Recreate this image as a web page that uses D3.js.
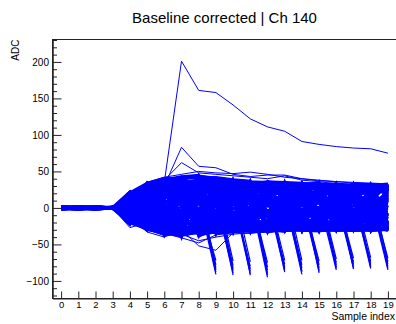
<!DOCTYPE html>
<html><head><meta charset="utf-8">
<script src="https://cdn.jsdelivr.net/npm/d3@7"></script>
<style>html,body{margin:0;padding:0;background:#fff;} svg{display:block;font-family:"Liberation Sans",Arial,Helvetica,sans-serif;}</style>
</head><body><svg id="c" width="396" height="324"></svg>
<script>
const title = "Baseline corrected | Ch 140";
const xLabel = "Sample index";
const yLabel = "ADC";
const samples = [0,1,2,3,4,5,6,7,8,9,10,11,12,13,14,15,16,17,18,19];
const xTicks = [0,1,2,3,4,5,6,7,8,9,10,11,12,13,14,15,16,17,18,19];
const yTicks = [-100,-50,0,50,100,150,200];
const yMinorTicks = [-120,-110,-90,-80,-70,-60,-40,-30,-20,-10,10,20,30,40,60,70,80,90,110,120,130,140,160,170,180,190,210,220,230];

// baseline-corrected waveforms (ADC per sample)
const noiseWaveforms = [
[0,1,-1,0,12,-18,25,-30,33,-20,28,-25,30,-12,22,-28,15,-5,27,-22],
[1,-2,1,0,-15,24,-8,35,-22,30,-31,18,-9,27,-26,12,-30,24,-14,29],
[-1,0,2,-1,5,27,-28,12,40,-27,5,33,-24,8,-18,31,-11,-29,20,6],
[0,2,-1,1,-8,-22,30,-35,18,36,-14,-29,26,-3,33,-20,28,9,-27,-16],
[1,-1,0,0,19,10,-30,38,-31,14,-25,24,35,-28,-6,24,-23,30,-2,18],
[-1,1,1,-1,-19,-26,14,22,-12,-30,38,-7,-28,34,15,-29,2,-18,31,-28],
[0,0,-2,1,16,31,5,-26,44,2,-30,29,-13,-25,30,6,-27,20,-24,25],
[2,-1,0,0,-3,-12,37,9,-34,25,18,-30,34,20,-29,-14,33,-25,11,-9],
[0,1,1,1,9,-28,-18,41,-6,-22,33,13,-27,-18,27,30,-15,-30,28,32],
[-2,0,-1,0,-12,18,27,-38,30,40,-26,-20,8,32,-24,-27,22,14,-30,3],
[1,2,0,-1,21,-5,-34,30,15,-33,11,36,-31,-9,12,20,-30,32,-18,-25],
[0,-1,2,0,-17,29,21,-14,-28,32,-9,-25,30,25,-30,-4,29,-8,24,-30],
[-1,1,-1,1,7,-19,-26,26,38,-15,35,3,-20,-31,19,33,-26,-21,5,21],
[0,0,1,0,-21,6,33,-33,-18,21,-31,31,17,-26,34,-22,10,27,-29,14],
[2,1,-1,-1,14,-25,-12,19,42,-32,22,-14,-30,22,-8,27,-31,-12,30,-20],
[-1,-2,0,1,-6,33,9,-39,25,8,-21,37,-26,13,29,-30,24,-28,16,31],
[0,1,0,0,17,-10,-31,33,-25,-28,31,-30,22,-20,-27,11,30,16,-23,-7],
[1,0,2,1,-14,21,28,-20,7,38,-33,-11,35,-29,25,-17,-20,31,-26,26],
[-1,-1,-2,0,3,-27,18,37,-36,-12,29,19,-25,30,-29,28,-5,-24,29,-30],
[0,2,1,-1,20,14,-36,-9,36,26,-8,-31,11,-22,31,-26,27,-30,-10,22],
[1,-1,-1,0,-18,-16,24,31,-27,-31,24,32,-29,36,-13,-30,32,6,-31,12],
[-2,0,0,1,11,30,-22,-31,10,35,-29,-2,30,-16,-25,32,-28,28,19,-27],
[0,1,-1,-1,-9,-21,36,15,-32,-8,37,-28,-18,28,21,-15,18,-27,33,-12],
[1,0,1,0,15,26,-4,-36,41,-25,-15,28,-31,5,-31,26,-29,13,-22,30],
[-1,2,0,1,-20,-8,-33,40,-15,33,27,-24,20,-30,33,-28,5,30,-30,-18],
[0,-2,2,0,6,32,31,-28,-30,18,-32,15,34,-23,-19,35,-24,-16,26,27],
[2,0,-1,-1,-11,-29,-20,36,27,-36,16,-27,-21,31,28,-25,31,-28,-13,-29],
[-1,1,1,0,18,19,-37,-16,39,12,-28,34,-5,-28,30,-6,-31,25,32,-24],
[0,-1,0,1,-5,-23,29,24,-24,-29,39,-16,25,17,-31,22,28,-30,8,33],
[1,1,-2,0,13,28,-15,-37,31,29,-20,-30,31,-27,10,-29,-18,32,-28,16],
[-1,0,1,-1,-16,3,34,32,-33,-17,30,26,-33,24,-28,29,-30,-9,24,-31],
[0,2,0,0,8,-30,-28,-4,43,-30,-24,30,18,-32,25,-31,26,29,-25,10],
[2,-1,-1,1,-13,25,20,39,-20,34,10,-33,-24,30,-30,15,-28,-31,30,-26],
[-1,0,2,0,22,-14,-35,-29,37,-21,34,22,-30,-12,34,-27,20,10,-31,28],
[0,1,0,-1,-2,30,26,12,-29,37,-31,-19,32,26,-26,33,-31,-26,27,-15],
[1,-2,1,0,17,-26,-9,-38,28,-34,28,33,-10,-30,20,-24,33,18,-18,30],
[-2,1,-1,1,-22,15,38,27,-37,4,-27,-24,28,15,-32,28,-14,-29,31,-29],
[0,0,0,0,10,31,-25,-33,34,31,21,-32,-28,33,-7,-31,29,24,-29,20],
[1,1,2,-1,-10,-31,30,33,-9,-26,-33,27,26,-31,26,18,-31,-22,14,-23],
[-1,-1,-1,0,4,22,-38,-12,40,-35,31,-6,-31,29,-31,30,-21,33,-31,31],
[0,1,1,1,-17,-3,23,36,-31,27,-30,35,-22,-24,31,-32,32,-27,22,-10],
[2,0,-2,0,20,-27,-30,-25,33,-11,27,-29,33,27,-25,21,-23,27,-30,25],
[-1,2,0,-1,-7,27,35,-36,-23,38,-19,25,-30,-32,23,-30,30,-20,29,-28],
[0,-1,1,0,14,-17,-24,41,12,-33,36,-32,21,25,-31,27,-27,31,-24,18],
[1,0,-1,1,-14,33,-31,-20,38,23,-33,31,-28,-30,29,-18,27,-31,9,-31],
[-1,1,0,0,19,-24,36,-31,-35,30,25,-27,29,14,-30,31,-30,12,31,-21],
[0,-2,2,-1,-19,12,-6,37,-26,-32,-25,34,-33,32,-20,-28,25,-26,-31,29],
[2,1,-1,0,1,-29,33,29,-38,35,-30,-28,27,-26,33,-29,-26,29,28,-30],
[-1,0,1,1,16,25,-33,-39,30,-31,32,29,-32,28,-27,34,-31,-30,-28,27],
[0,1,-1,0,-11,-20,16,34,-30,29,-29,32,30,-29,31,-31,31,-29,30,-29],
[1,-1,0,-1,21,34,-23,-34,42,-29,-31,-30,33,-31,-29,30,-31,30,-27,30],
[-1,2,1,0,-20,-27,38,16,-34,38,33,-31,-29,30,30,-30,-29,-31,31,-30],
[0,0,-1,1,11,17,-37,37,-37,-33,28,31,-31,-31,32,29,-30,31,-31,31],
[1,1,2,0,-15,29,28,-40,35,33,-32,-31,31,34,-31,-31,30,-30,30,-31],
[-2,-1,0,-1,18,-30,-34,40,-33,-34,32,-33,-32,31,-30,32,29,30,-31,-30],
[0,0,1,0,-4,35,25,-30,39,25,-34,33,-30,-32,33,-29,-31,31,29,29],
[1,2,-1,1,15,-28,-36,20,-35,34,35,-31,35,33,-31,29,31,-31,-30,31],
[-1,-1,0,0,-21,30,37,-37,24,-35,-33,28,-33,-30,29,-31,-30,-29,30,-31],
[0,1,1,-1,22,-16,-29,38,-39,-28,37,-33,32,31,-31,31,31,30,-31,30],
[2,-2,-1,0,-23,28,30,-38,40,36,-30,33,-31,-29,30,-30,-31,-31,30,-30],
[0,1,0,0,20,32,38,42,44,41,38,36,35,34,33,32,33,31,32,31],
[0,-1,1,0,-20,-27,-34,-36,-32,-31,-32,-30,-31,-30,-29,-30,-30,-31,-30,-30],
[1,0,-1,0,21,30,36,40,42,40,37,-31,-30,34,33,33,32,-30,31,32],
[-1,1,0,1,-19,-26,-33,-38,-33,33,35,36,-30,-31,-31,32,31,32,-31,-29],
[0,0,2,0,18,33,40,-35,-32,-32,-31,-30,36,35,34,-30,-30,31,30,31],
[2,-1,-1,0,-21,28,39,43,45,-33,-32,-31,-31,34,-30,-31,32,-31,-30,30],
[0,1,0,-1,15,-29,-35,-37,40,42,39,37,-31,-30,33,34,-29,30,31,-30],
[-1,0,1,0,-16,31,37,41,-34,-33,36,-32,33,-31,-30,33,31,-30,32,31],
[1,-1,-1,1,22,-24,-31,-34,43,41,-32,35,-30,-30,32,-31,-30,32,32,-31],
[0,2,0,0,-22,34,41,39,-31,39,37,-31,34,33,-31,-30,33,-30,-30,32],
[0,0,1,0,10,20,28,35,38,32,28,30,25,29,31,27,30,28,32,29],
[0,1,0,0,-10,-18,-26,-30,-29,-27,-30,-25,-28,-30,-26,-29,-27,-30,-28,-29],
[1,0,0,-1,14,25,33,38,35,30,22,26,30,33,28,24,29,31,26,30],
[-1,0,1,0,-14,-22,-30,-33,-31,-24,-28,-31,-22,-27,-30,-25,-29,-24,-30,-27],
[0,-1,0,1,6,15,22,28,24,18,25,20,15,22,27,19,24,16,22,25],
[0,1,-1,0,-6,-12,-18,-22,-15,-20,-14,-22,-18,-13,-21,-17,-23,-15,-20,-17],
[1,-1,0,0,2,8,14,20,12,16,10,18,14,8,15,11,17,9,14,12],
[0,0,-1,1,-2,-6,-10,-8,-4,-10,-5,-12,-7,-3,-9,-6,-11,-4,-8,-5],
[-1,1,1,0,17,28,36,42,40,37,35,33,36,31,34,30,32,30,31,33],
[0,0,0,0,-17,-25,-32,-37,-34,-32,-29,-31,-32,-28,-31,-32,-28,-30,-31,-29],
[1,1,0,0,12,24,30,26,34,36,31,27,33,26,31,28,25,33,29,26],
[-1,0,-1,1,-12,-20,-24,-28,-25,-31,-26,-23,-30,-27,-24,-31,-26,-28,-23,-31],
[0,-2,1,0,8,18,12,24,19,27,21,14,20,25,18,22,15,21,26,19],
[2,0,0,-1,-8,-16,-11,-19,-24,-18,-23,-16,-25,-20,-14,-22,-19,-25,-17,-22],
[0,1,0,0,4,10,6,14,8,4,12,6,2,9,5,13,7,3,10,6],
[-1,0,1,0,-4,-2,-8,-2,-12,-5,0,-8,-3,-11,-2,-6,0,-9,-3,-1],
[0,0,-1,1,19,30,37,32,27,33,36,29,32,35,30,32,33,27,30,32],
[1,-1,0,0,-19,-28,-31,-26,-31,-28,-23,-29,-31,-25,-28,-31,-24,-29,-31,-26],
[0,1,1,-1,16,22,18,30,36,28,20,24,18,26,20,16,23,27,20,24],
[-1,0,0,0,-16,-14,-22,-16,-21,-29,-20,-15,-21,-17,-23,-28,-20,-14,-19,-24],
[0,-1,0,1,9,3,17,8,0,10,4,-4,6,0,7,-2,4,-5,2,8],
[1,0,1,0,-9,-4,2,-6,-16,-8,-13,-4,-12,-16,-6,-12,-8,-14,-10,-6],
[0,1,-1,0,13,26,32,40,31,25,33,27,23,30,24,33,26,30,24,28],
[0,0,1,-1,-13,-24,-28,-34,-26,-22,-30,-26,-31,-22,-28,-24,-30,-26,-22,-30],
[-1,1,0,0,0,12,26,16,28,22,14,22,29,15,23,17,28,21,33,24],
[2,-1,0,1,0,-10,-16,-30,-20,-14,-22,-28,-20,-26,-18,-24,-21,-28,-24,-18],
[0,0,1,0,11,20,34,30,20,12,18,10,18,12,19,13,6,15,10,16],
[-1,1,-1,0,-11,-24,-20,-12,-6,-14,-8,-18,-10,-20,-13,-10,-17,-9,-14,-11],
[1,0,0,0,18,32,26,18,26,31,26,30,26,20,26,30,21,25,30,22],
[0,-1,1,1,-18,-30,-26,-20,-27,-24,-31,-23,-27,-31,-24,-20,-27,-22,-26,-31],
[0,0,0,0,3,6,10,4,8,2,6,0,4,-2,3,1,-3,2,5,0],
[0,0,0,0,-3,2,-4,6,-2,4,-6,2,-4,5,-1,-5,3,-2,0,4],
[0,0,0,0,7,-4,4,-6,5,-3,9,-1,8,-6,10,-4,6,-8,5,-3],
[0,0,0,0,-7,12,0,10,-8,12,-2,10,-6,4,-10,8,-4,10,-6,12],
[0,0,0,0,1,-8,8,-14,14,-6,-16,12,-8,18,-4,-14,14,-12,8,-10],
[0,0,0,0,10,4,-12,2,-12,16,8,-14,12,-8,14,-12,-6,12,-14,4]
];

const outlierWaveforms = [
[0,1,0,-1,15,28,35,201,161,158,141,122,111,105,91,87,84,82,81,75],
[0,0,1,0,12,26,30,83,57,55,46,43,45,45,40,37,36,35,34,33],
[1,0,-1,0,18,30,38,62,48,46,44,42,40,44,38,36,33,32,31,32],
[0,0,0,1,20,35,42,46,50,48,47,49,46,42,40,38,36,34,33,32],
[0,-1,0,0,-22,-30,-38,-36,-45,-40,-36,-34,-33,-31,-30,-31,-30,-30,-31,-30],
[0,1,-1,0,-27,-20,-35,-41,-48,-37,-34,-35,-32,-30,-31,-30,-30,-31,-30,-31],
[1,0,0,-1,-12,-33,-40,-30,-52,-58,-34,-33,-31,-32,-30,-31,-31,-30,-30,-30]
];

// negative pulses: sample of the minimum, the value one sample before it, and the minimum
const spikeAt = [9,10,11,12,13,14,15,16,17,18,19];
const spikePrev = [
[12,20,28,16,24,9],[18,10,26,14,22,30],[25,12,18,20,10,30],[14,28,20,10,24,18],
[20,12,30,16,9,24],[14,26,10,20,18,30],[28,12,18,10,24,16],[10,22,30,14,18,26],
[24,12,16,28,10,20],[16,30,12,20,10,26],[12,25,18,10,30,20]
];
const spikeTip = [
[-91,-88,-85,-82,-78,-72],[-92,-89,-86,-83,-79,-73],[-92,-90,-87,-84,-80,-74],[-95,-92,-89,-85,-81,-75],
[-88,-86,-84,-81,-77,-72],[-91,-88,-86,-82,-78,-72],[-89,-87,-85,-82,-78,-73],[-85,-83,-81,-78,-75,-70],
[-84,-82,-80,-77,-74,-69],[-83,-81,-79,-76,-73,-68],[-85,-83,-80,-77,-74,-69]
];

const svg = d3.select("#c");
const L = 52.5, R = 396.5, T = 39.5, B = 298.5;
const x = d3.scaleLinear().domain([-0.5, 19.5]).range([L, R]);
const y = d3.scaleLinear().domain([-124.1, 230.7]).range([B, T]);

svg.append("defs").append("clipPath").attr("id","clip")
  .append("rect").attr("x",L).attr("y",T).attr("width",R-L).attr("height",B-T);

const line = d3.line().x((d,i)=>x(samples[i])).y(d=>y(d));
const g = svg.append("g").attr("clip-path","url(#clip)");
const blue = "#0000ff";

g.selectAll("path.n").data(noiseWaveforms).enter().append("path")
  .attr("d", line).attr("fill","none").attr("stroke",blue).attr("stroke-width",2.6);

const spikeSegs = [];
spikeAt.forEach((s,k)=>spikePrev[k].forEach((p,j)=>spikeSegs.push([[s-1,p],[s,spikeTip[k][j]]])));
const segLine = d3.line().x(d=>x(d[0])).y(d=>y(d[1]));
g.selectAll("path.s").data(spikeSegs).enter().append("path")
  .attr("d", segLine).attr("fill","none").attr("stroke",blue).attr("stroke-width",1.2);

g.selectAll("path.o").data(outlierWaveforms).enter().append("path")
  .attr("d", line).attr("fill","none").attr("stroke",blue).attr("stroke-width",1);

// frame
svg.append("rect").attr("x",L).attr("y",T).attr("width",R-L).attr("height",B-T)
  .attr("fill","none").attr("stroke","#222").attr("stroke-width",1);

// axes
const axCol = "#222";
const yMajor = svg.append("g").attr("transform",`translate(${L},0)`)
  .call(d3.axisLeft(y).tickValues(yTicks).tickSize(-9).tickSizeOuter(0).tickPadding(3.5).tickFormat(d=>d<0?"\u2212"+Math.abs(d):d));
const yMinor = svg.append("g").attr("transform",`translate(${L},0)`)
  .call(d3.axisLeft(y).tickValues(yMinorTicks).tickSize(-4.5).tickSizeOuter(0).tickFormat(""));
const xAx = svg.append("g").attr("transform",`translate(0,${B})`)
  .call(d3.axisBottom(x).tickValues(xTicks).tickSize(-7).tickSizeOuter(0).tickPadding(2.5));
[yMajor,yMinor,xAx].forEach(a=>{
  a.select(".domain").attr("stroke",axCol);
  a.selectAll(".tick line").attr("stroke",axCol);
  a.selectAll("text").attr("fill","#000").style("font-size","10px").style("font-family",'"Liberation Sans",Arial,sans-serif');
});
xAx.selectAll("text").style("font-size","9.5px");

svg.append("text").attr("x",224.5).attr("y",23).attr("text-anchor","middle")
  .style("font-size","15px").attr("fill","#000").text(title);
svg.append("text").attr("x",395).attr("y",319.5).attr("text-anchor","end")
  .style("font-size","10.5px").attr("fill","#000").text(xLabel);
svg.append("text").attr("transform","translate(18.5,39.5) rotate(-90)").attr("text-anchor","end")
  .style("font-size","10px").attr("fill","#000").text(yLabel);
</script></body></html>
